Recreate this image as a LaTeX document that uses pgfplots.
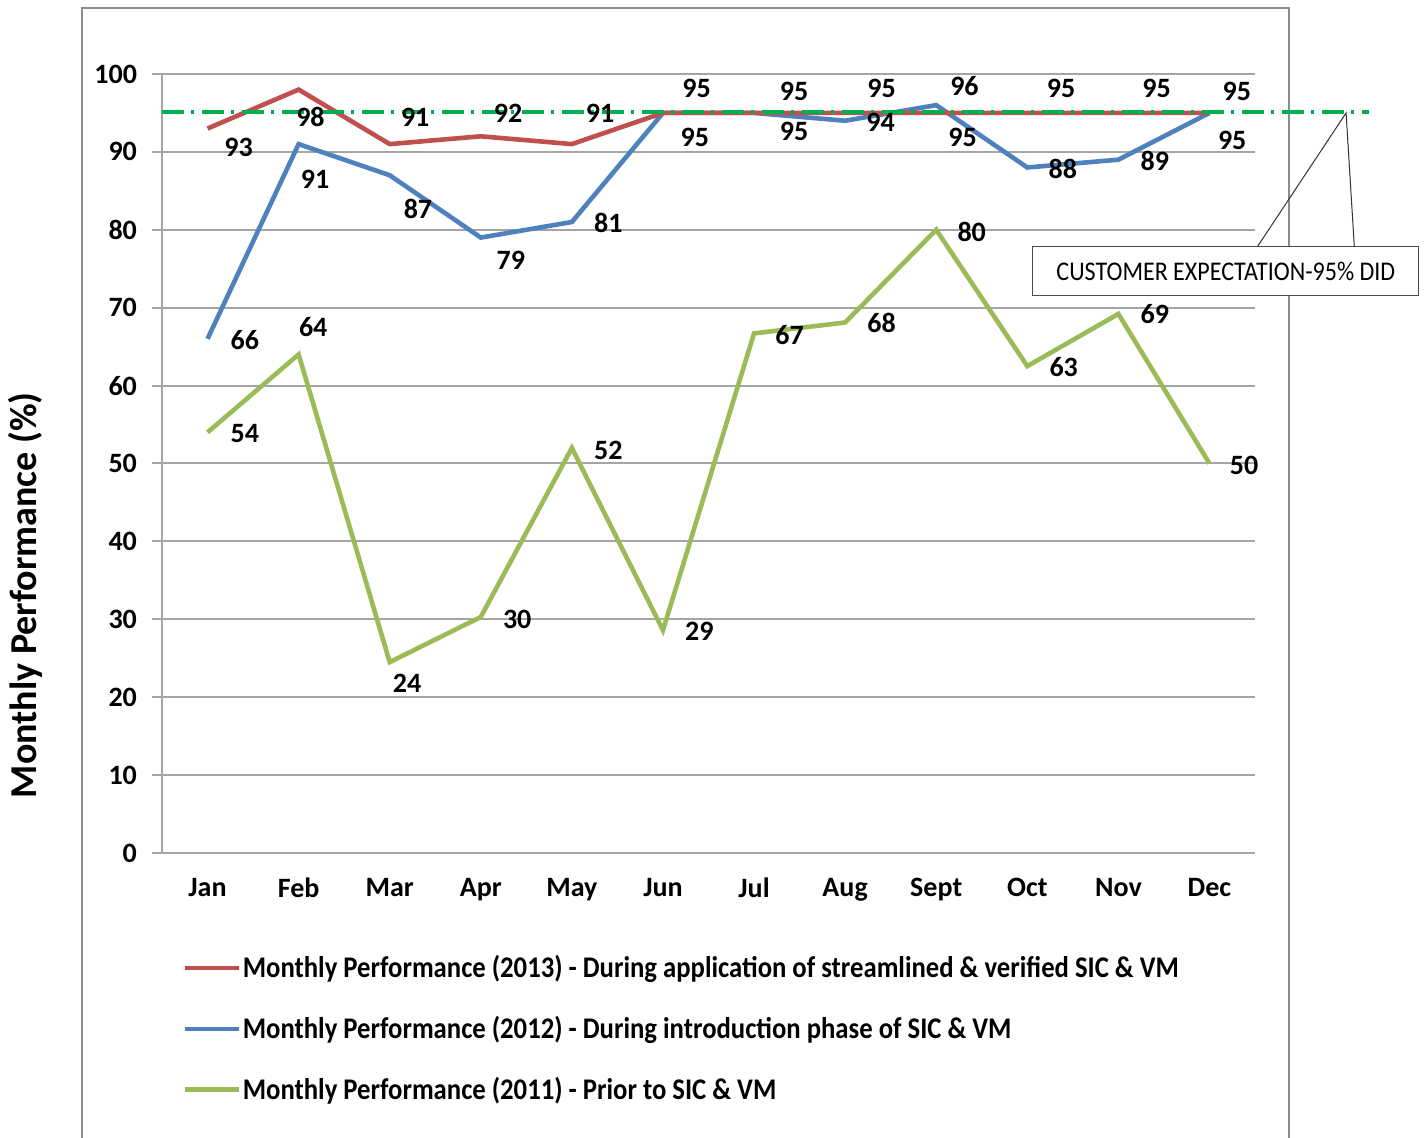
\documentclass[border=0pt]{standalone}
\usepackage{pgfplots}
\pgfplotsset{compat=1.18}
\usepackage{fontspec}
\setmainfont{Carlito}
\newfontfamily\condfont[FakeStretch=0.89]{Carlito}
\definecolor{cRed}{RGB}{192,80,77}
\definecolor{cBlue}{RGB}{79,129,189}
\definecolor{cGreen}{RGB}{155,187,89}
\definecolor{cDash}{RGB}{0,176,80}
\definecolor{cGrid}{RGB}{165,165,165}
\definecolor{cFrame}{RGB}{140,140,140}
\begin{document}
\begin{tikzpicture}[lbl/.style={font=\bfseries\fontsize{14}{16}\selectfont, inner sep=0pt}]
\path[use as bounding box] (-81pt,-142.5pt) rectangle (632.5pt,426.5pt);
\draw[cFrame, line width=1pt] (-40pt,-146pt) -- (-40pt,422.5pt) -- (563.5pt,422.5pt) -- (563.5pt,-146pt);
\begin{axis}[
  at={(0,0)}, anchor=south west,
  scale only axis, width=546.5pt, height=389.5pt,
  xmin=-0.5, xmax=11.5, ymin=0, ymax=100,
  clip=false,
  axis x line=bottom, axis y line=left,
  axis line style={-, draw=cGrid, line width=1pt},
  xtick={0,...,11},
  xticklabels={Jan,Feb,Mar,Apr,May,Jun,Jul,Aug,Sept,Oct,Nov,Dec},
  ytick={0,10,...,100},
  yticklabels={0,10,20,30,40,50,60,70,80,90,100},
  ymajorgrids, grid style={cGrid, line width=1pt},
  tick align=outside,
  major tick length=5pt,
  xtick style={draw=none},
  minor xtick={-0.5,0.5,...,11.5},
  minor tick length=4pt,
  minor x tick style={cGrid, line width=1pt},
  ytick style={cGrid, line width=1pt},
  tick label style={font=\bfseries\fontsize{14}{16}\selectfont},
  xticklabel style={yshift=-4pt},
  yticklabel style={xshift=-4pt},
  legend style={draw=none, fill=none, at={(rel axis cs:0.0185,-0.126)}, anchor=north west,
    font=\condfont\bfseries\fontsize{15}{18}\selectfont, row sep=13.7pt, cells={anchor=west},
    nodes={inner xsep=0.8pt}, inner sep=0pt},
  legend image code/.code={\draw[#1] (0pt,0pt) -- (27pt,0pt);},
  reverse legend,
]
\addplot[cGreen, line width=2.3pt] coordinates {(0,54) (1,64) (2,24.5) (3,30.3) (4,52) (5,28.6) (6,66.7) (7,68.1) (8,80) (9,62.5) (10,69.2) (11,50)};
\addlegendentry{Monthly Performance (2011) - Prior to SIC \& VM}
\addplot[cBlue, line width=2.3pt] coordinates {(0,66) (1,91) (2,87) (3,79) (4,81) (5,95) (6,95) (7,94) (8,96) (9,88) (10,89) (11,95)};
\addlegendentry{Monthly Performance (2012) - During introduction phase of SIC \& VM}
\addplot[cRed, line width=2.3pt] coordinates {(0,93) (1,98) (2,91) (3,92) (4,91) (5,95) (6,95) (7,95) (8,95) (9,95) (10,95) (11,95)};
\addlegendentry{Monthly Performance (2013) - During application of streamlined \& verified SIC \& VM}
\addplot[cDash, line width=2pt, dash pattern=on 11pt off 3.5pt on 1.5pt off 4pt, forget plot] coordinates {(-0.5,95.1) (12.75,95.1)};
% data labels
\node[lbl] at (axis cs:0.34,90.6) {93};
\node[lbl] at (axis cs:1.13,94.5) {98};
\node[lbl] at (axis cs:2.28,94.5) {91};
\node[lbl] at (axis cs:3.30,95.0) {92};
\node[lbl] at (axis cs:4.31,94.9) {91};
\node[lbl] at (axis cs:5.37,98.2) {95};
\node[lbl] at (axis cs:5.35,91.8) {95};
\node[lbl] at (axis cs:6.44,97.7) {95};
\node[lbl] at (axis cs:6.44,92.6) {95};
\node[lbl] at (axis cs:7.40,98.1) {95};
\node[lbl] at (axis cs:7.39,93.8) {94};
\node[lbl] at (axis cs:8.31,98.5) {96};
\node[lbl] at (axis cs:8.29,91.8) {95};
\node[lbl] at (axis cs:9.37,98.1) {95};
\node[lbl] at (axis cs:9.39,87.8) {88};
\node[lbl] at (axis cs:10.42,98.2) {95};
\node[lbl] at (axis cs:10.40,88.8) {89};
\node[lbl] at (axis cs:11.30,97.7) {95};
\node[lbl] at (axis cs:11.25,91.5) {95};
\node[lbl] at (axis cs:1.18,86.5) {91};
\node[lbl] at (axis cs:2.31,82.7) {87};
\node[lbl] at (axis cs:3.33,76.1) {79};
\node[lbl] at (axis cs:4.40,80.9) {81};
\node[lbl] at (axis cs:0.41,65.9) {66};
\node[lbl] at (axis cs:1.16,67.5) {64};
\node[lbl] at (axis cs:0.41,53.9) {54};
\node[lbl] at (axis cs:4.40,51.7) {52};
\node[lbl] at (axis cs:3.40,30.0) {30};
\node[lbl] at (axis cs:2.19,21.8) {24};
\node[lbl] at (axis cs:5.40,28.5) {29};
\node[lbl] at (axis cs:6.39,66.5) {67};
\node[lbl] at (axis cs:7.40,68.0) {68};
\node[lbl] at (axis cs:8.39,79.7) {80};
\node[lbl] at (axis cs:9.40,62.4) {63};
\node[lbl] at (axis cs:10.40,69.2) {69};
\node[lbl] at (axis cs:11.38,49.8) {50};
% callout
\draw[black!70, line width=0.5pt, fill=white] (axis cs:9.06,71.6) rectangle (axis cs:13.30,77.9);
\draw[black!80, line width=0.5pt] (axis cs:11.53,77.9) -- (axis cs:12.50,95.0) -- (axis cs:12.59,77.9);
\node[font=\condfont\fontsize{13.5}{15}\selectfont] at (axis cs:11.18,74.7) {CUSTOMER EXPECTATION-95\% DID};
% y label
\node[rotate=90, font=\bfseries\fontsize{19}{21}\selectfont] at (rel axis cs:-0.125,0.331) {Monthly Performance (\%)};
\end{axis}
\end{tikzpicture}
\end{document}
